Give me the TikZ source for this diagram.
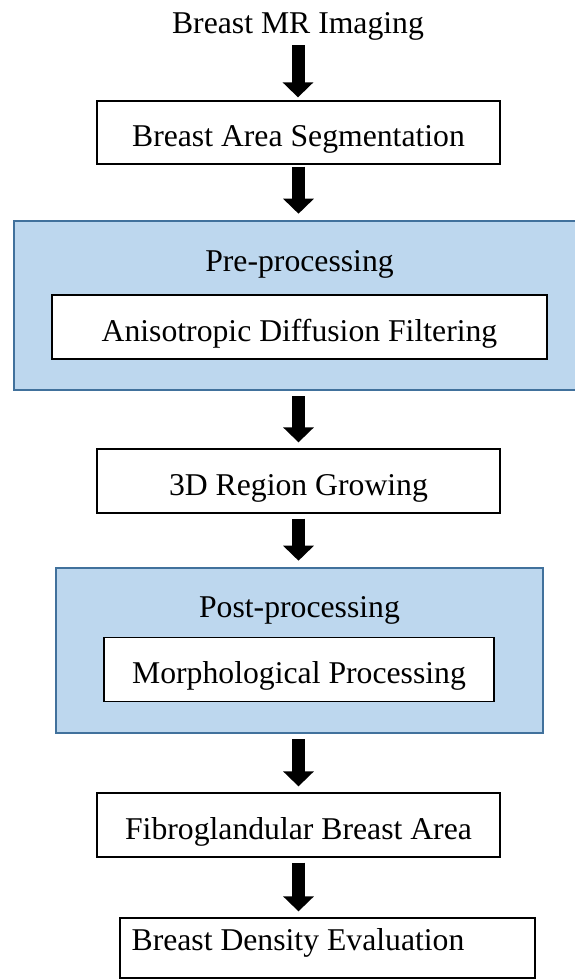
\documentclass[tikz,border=0pt]{standalone}
\usepackage{fontspec}
\setmainfont{Liberation Serif}
\usetikzlibrary{arrows.meta}
\definecolor{panelfill}{HTML}{BDD7EE}
\definecolor{panelline}{HTML}{41719C}
\begin{document}
\begin{tikzpicture}[x=1pt,y=-1pt,
  every node/.style={font=\fontsize{31.7}{38}\selectfont, inner sep=0pt,
    text height=28pt, text depth=0pt},
  stepbox/.style={draw=black, line width=1.3pt, fill=white, minimum height=63pt},
  panel/.style={draw=panelline, line width=2.6pt, fill=panelfill},
  flow/.style={line width=13pt, -{Triangle[width=30pt,length=15pt]},
    shorten <=5pt, shorten >=6pt}]
\useasboundingbox (0,0) rectangle (574,979);

% input
\node (title) at (298,20) {Breast MR Imaging};

% segmentation
\node[stepbox, minimum width=403pt] (seg) at (298.5,132.5) {Breast Area Segmentation};

% pre-processing panel
\node[panel, minimum width=576pt, minimum height=169pt] (pre) at (302,305.5) {};
\node (prelabel) at (299.5,257) {Pre-processing};
\node[stepbox, minimum width=495pt, minimum height=64pt] (aniso) at (299.5,327) {Anisotropic Diffusion Filtering};

% region growing
\node[stepbox, minimum width=403pt, minimum height=64pt] (grow) at (298.5,481) {3D Region Growing};

% post-processing panel
\node[panel, minimum width=487pt, minimum height=165pt] (post) at (299.5,650.5) {};
\node (postlabel) at (299.5,603) {Post-processing};
\node[stepbox, minimum width=390pt, minimum height=64pt] (morph) at (299,669.5) {Morphological Processing};

% results; the last box is wider on the right, its text stays on the axis
\node[stepbox, minimum width=403pt, minimum height=64pt] (fibro) at (298.5,825) {Fibroglandular Breast Area};
\node[stepbox, minimum width=415pt, minimum height=60pt,
      text height=16pt, text depth=12pt] (dens) at (327.5,948) {Breast Density Evaluation\kern59pt};

% flow arrows
\draw[flow, shorten <=11pt, shorten >=3pt] (title.south) -- (title.south |- seg.north);
\draw[flow, shorten <=2pt] (seg.south) -- (seg.south |- pre.north);
\draw[flow] (seg.south |- pre.south) -- (grow.north);
\draw[flow] (grow.south) -- (grow.south |- post.north);
\draw[flow] (grow.south |- post.south) -- (fibro.north);
\draw[flow] (fibro.south) -- (fibro.south |- dens.north);
\end{tikzpicture}
\end{document}
